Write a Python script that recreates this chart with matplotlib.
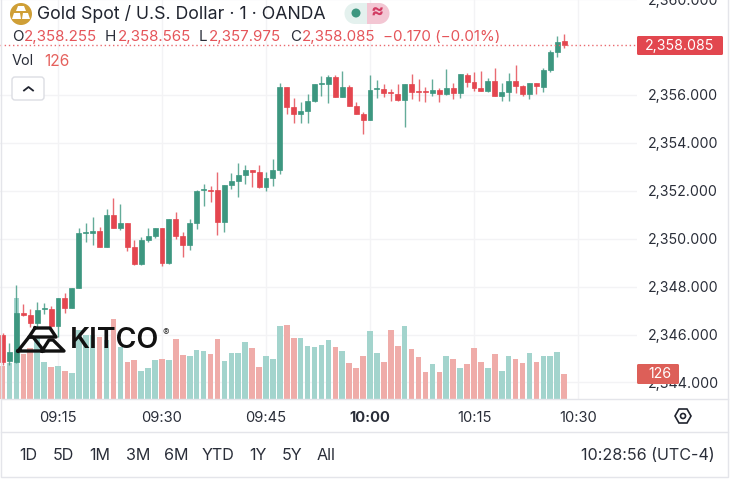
import matplotlib
matplotlib.use('Agg')
import matplotlib.pyplot as plt
from matplotlib.patches import Circle, FancyBboxPatch, Polygon, Rectangle

plt.rcParams['font.family'] = ['Inter', 'DejaVu Sans']

# one minute candles, 09:07 to 10:28
opens = [2345.98, 2344.89, 2344.86, 2346.88, 2346.80, 2346.47, 2347.05, 2347.06, 2346.37, 2347.52,
         2347.12, 2347.95, 2350.25, 2350.25, 2350.32, 2349.64, 2351.00, 2350.46, 2350.64, 2349.64,
         2348.94, 2349.96, 2350.11, 2350.43, 2348.97, 2350.83, 2350.11, 2349.73, 2350.67, 2352.02,
         2352.02, 2352.02, 2350.71, 2352.24, 2352.41, 2352.66, 2352.85, 2352.78, 2352.17, 2352.55,
         2352.85, 2356.32, 2355.48, 2355.19, 2355.33, 2355.76, 2356.46, 2356.46, 2356.75, 2355.90,
         2356.35, 2355.54, 2355.19, 2354.96, 2356.24, 2356.24, 2356.12, 2356.03, 2355.78, 2356.44,
         2356.17, 2356.15, 2356.07, 2356.21, 2356.04, 2356.28, 2356.07, 2356.83, 2356.56, 2356.31,
         2356.18, 2356.58, 2355.94, 2356.12, 2356.60, 2356.39, 2356.04, 2356.51, 2356.35, 2357.04,
         2357.81, 2358.255]
highs = [2346.05, 2345.63, 2348.07, 2347.27, 2347.05, 2347.34, 2347.30, 2347.19, 2347.52, 2347.72,
         2347.95, 2350.43, 2350.64, 2350.92, 2350.50, 2351.22, 2351.68, 2351.45, 2350.64, 2349.94,
         2350.08, 2350.46, 2350.46, 2350.43, 2350.83, 2351.10, 2350.28, 2350.81, 2352.03, 2352.28,
         2352.21, 2352.80, 2352.24, 2352.73, 2353.15, 2353.06, 2352.85, 2353.07, 2352.77, 2353.34,
         2356.49, 2356.32, 2355.86, 2355.72, 2356.03, 2356.44, 2356.79, 2356.83, 2356.83, 2357.00,
         2356.40, 2355.71, 2355.28, 2356.83, 2356.63, 2356.44, 2356.24, 2356.44, 2356.44, 2356.88,
         2356.68, 2356.35, 2356.68, 2356.28, 2357.07, 2356.49, 2356.86, 2356.90, 2356.96, 2357.01,
         2356.69, 2357.14, 2356.49, 2356.90, 2357.25, 2356.42, 2356.51, 2356.51, 2357.11, 2357.88,
         2358.46, 2358.565]
lows = [2344.73, 2344.73, 2344.82, 2346.77, 2346.30, 2346.33, 2346.86, 2346.33, 2345.91, 2346.88,
        2347.09, 2347.95, 2349.87, 2349.73, 2349.64, 2349.64, 2350.46, 2350.36, 2349.50, 2348.91,
        2348.91, 2349.87, 2350.01, 2348.86, 2348.94, 2349.97, 2349.25, 2349.53, 2350.40, 2351.38,
        2351.55, 2350.15, 2350.29, 2352.06, 2351.75, 2352.28, 2352.17, 2352.10, 2352.00, 2352.20,
        2352.69, 2355.21, 2354.82, 2354.82, 2354.84, 2355.71, 2355.97, 2355.68, 2355.90, 2355.90,
        2355.54, 2355.19, 2354.36, 2354.96, 2355.89, 2355.93, 2355.75, 2355.75, 2354.68, 2355.85,
        2355.75, 2355.72, 2355.97, 2355.72, 2356.00, 2355.82, 2355.87, 2356.35, 2356.17, 2356.18,
        2356.14, 2355.94, 2355.76, 2355.76, 2356.10, 2355.97, 2355.82, 2356.04, 2356.14, 2356.97,
        2357.60, 2357.975]
closes = [2344.87, 2345.26, 2346.88, 2346.80, 2346.47, 2347.02, 2347.09, 2346.37, 2347.52, 2347.12,
          2347.95, 2350.22, 2350.28, 2350.32, 2349.64, 2351.00, 2350.46, 2350.64, 2349.64, 2348.94,
          2349.96, 2350.11, 2350.43, 2348.97, 2350.83, 2350.11, 2349.73, 2350.67, 2352.00, 2352.06,
          2351.98, 2350.71, 2352.24, 2352.41, 2352.66, 2352.85, 2352.78, 2352.17, 2352.55, 2352.85,
          2356.32, 2355.48, 2355.19, 2355.33, 2355.76, 2356.44, 2356.49, 2356.75, 2355.90, 2356.35,
          2355.54, 2355.19, 2354.96, 2356.21, 2356.28, 2356.07, 2356.08, 2355.78, 2356.44, 2356.14,
          2356.12, 2356.12, 2356.22, 2356.04, 2356.29, 2356.07, 2356.86, 2356.56, 2356.28, 2356.18,
          2356.58, 2355.94, 2356.12, 2356.58, 2356.39, 2356.04, 2356.51, 2356.36, 2357.04, 2357.81,
          2358.20, 2358.085]
volumes = [168, 180, 512, 228, 257, 311, 189, 163, 167, 141,
           133, 350, 325, 325, 316, 300, 406, 265, 189, 197,
           141, 158, 197, 202, 197, 304, 223, 219, 248, 241,
           226, 304, 190, 231, 231, 287, 257, 160, 219, 204,
           371, 374, 309, 308, 267, 264, 274, 299, 264, 243,
           182, 156, 219, 343, 233, 189, 350, 269, 371, 252,
           214, 134, 177, 138, 216, 204, 158, 177, 260, 189,
           158, 228, 139, 219, 202, 184, 233, 189, 219, 219,
           240, 126]

price_ticks = [2344, 2346, 2348, 2350, 2352, 2354, 2356, 2358, 2360]
time_ticks = [8, 23, 38, 53, 68, 83]
time_labels = ['09:15', '09:30', '09:45', '10:00', '10:15', '10:30']
range_labels = ['1D', '5D', '1M', '3M', '6M', 'YTD', '1Y', '5Y', 'All']
range_x = [28, 63, 100, 138, 176, 218, 258, 292, 326]

GREEN = '#3d9780'
RED = '#e4464f'
INK = '#2a2e39'
W, H = 730, 479

fig = plt.figure(figsize=(W / 100, H / 100), dpi=100, facecolor='white')
rect = [0, 1 - 399 / H, 637 / W, 401 / H]
xlim = (-0.366, 91.51)

# grid and tick labels
ax = fig.add_axes(rect, zorder=0)
ax.set_xlim(xlim)
ax.set_ylim(2343.307, 2360.05)
ax.set_yticks([p for p in price_ticks if p != 2358])
ax.set_yticklabels([f'{p:,.3f}' for p in price_ticks if p != 2358], fontsize=10.2, color=INK)
ax.yaxis.tick_right()
ax.set_xticks(time_ticks)
ax.set_xticklabels(time_labels, fontsize=10.6, color=INK)
ax.get_xticklabels()[3].set_fontweight('bold')
ax.tick_params(axis='both', length=0)
ax.tick_params(axis='y', pad=8)
ax.tick_params(axis='x', pad=8.5)
ax.grid(color='#f3f3f5', linewidth=1)
ax.set_axisbelow(True)
for s in ax.spines.values():
    s.set_visible(False)

# volume bars
ax_vol = fig.add_axes(rect, zorder=1)
ax_vol.patch.set_alpha(0)
ax_vol.axis('off')
ax_vol.set_xlim(xlim)
ax_vol.set_ylim(-1.5, 2043)
xs = list(range(len(opens)))
vol_colors = ['#a3d4cd' if c >= o else '#efaca9' for o, c in zip(opens, closes)]
ax_vol.bar(xs, volumes, width=0.8, color=vol_colors, linewidth=0)

# candles
ax_c = fig.add_axes(rect, zorder=2)
ax_c.patch.set_alpha(0)
ax_c.axis('off')
ax_c.set_xlim(xlim)
ax_c.set_ylim(ax.get_ylim())
colors = [GREEN if c >= o else RED for o, c in zip(opens, closes)]
ax_c.vlines(xs, lows, highs, colors=colors, linewidth=1, alpha=0.8)
ax_c.bar(xs, [abs(c - o) for o, c in zip(opens, closes)],
         bottom=[min(o, c) for o, c in zip(opens, closes)],
         width=0.72, color=colors, edgecolor=colors, linewidth=0.5)
ax_c.axhline(closes[-1], color='#ea6a6f', linewidth=1, linestyle=(0, (1, 2)))

# everything around the chart, in pixels
ov = fig.add_axes([0, 0, 1, 1], zorder=5)
ov.patch.set_alpha(0)
ov.axis('off')
ov.set_xlim(0, W)
ov.set_ylim(H, 0)

for y in [399, 432]:
    ov.plot([1, 728], [y, y], color='#e4e5ea', linewidth=1)
ov.plot([1, 1, 728, 728], [0, 476.5, 476.5, 0], color='#e4e5ea', linewidth=1)

# header
ov.add_patch(Circle((21, 14), 11, color='#cf9f36', linewidth=0))
ov.add_patch(Polygon([(18, 6), (24, 6), (26, 11), (16, 11)], color='white', linewidth=0))
ov.add_patch(Polygon([(12, 19), (14, 13), (20, 13), (21, 19)], color='white', linewidth=0))
ov.add_patch(Polygon([(22, 19), (23, 13), (28, 13), (30, 19)], color='white', linewidth=0))
ov.text(37, 14, 'Gold Spot / U.S. Dollar · 1 · OANDA', fontsize=12.75, color='#20242f', va='center')

ov.add_patch(Rectangle((355, 3), 12, 21, color='#e4f1ee', linewidth=0))
ov.add_patch(Circle((355, 13.5), 10.5, color='#e4f1ee', linewidth=0))
ov.add_patch(Rectangle((367, 3), 12, 21, color='#f3c6d3', linewidth=0))
ov.add_patch(Circle((379, 13.5), 10.5, color='#f3c6d3', linewidth=0))
ov.add_patch(Circle((356, 13), 4.5, color=GREEN, linewidth=0))
ov.text(377.5, 13, '≈', fontsize=14, color='#d23c63', ha='center', va='center', fontweight='bold')

for x, label in [(12, 'O'), (105, 'H'), (199, 'L'), (290, 'C')]:
    ov.text(x, 37, label, fontsize=10.9, color=INK, va='center')
for x, val in [(24, opens[-1]), (118, highs[-1]), (209, lows[-1]), (302, closes[-1])]:
    ov.text(x, 37, f'{val:,.3f}', fontsize=10.9, color='#e5555a', va='center')
ov.text(383, 37, f'−{opens[-1] - closes[-1]:.3f} (−0.01%)', fontsize=10.9, color='#e5555a', va='center')
ov.text(12, 61, 'Vol', fontsize=10.4, color=INK, va='center')
ov.text(44, 61, str(volumes[-1]), fontsize=11.2, color='#e5605c', va='center')

ov.add_patch(FancyBboxPatch((12, 77), 32, 23, boxstyle='round,pad=0,rounding_size=3',
                            facecolor='white', edgecolor='#dcdde3', linewidth=1))
ov.plot([24, 28.5, 33], [90.5, 87, 90.5], color='#20242f', linewidth=1.3)

# kitco logo
ov.plot([35, 50, 56, 29, 35], [328, 328, 337, 337, 328], color='#111111', linewidth=2.4)
ov.plot([18, 29, 33, 44, 18], [351, 337, 337, 351, 351], color='#111111', linewidth=2.4)
ov.plot([42, 49, 53, 64, 42], [351, 340, 340, 351, 351], color='#111111', linewidth=2.4)
ov.text(70, 341, 'KITCO', fontsize=20.5, color='#111111', fontweight='semibold', va='center')
ov.text(166, 333, '®', fontsize=7, color='#333333', ha='center', va='center')

# last price and volume tags
ov.add_patch(FancyBboxPatch((637, 36), 86, 19, boxstyle='round,pad=0,rounding_size=1.5', color='#e2474f', linewidth=0))
ov.text(680, 45.5, f'{closes[-1]:,.3f}', fontsize=10.2, color='white', ha='center', va='center')
ov.add_patch(FancyBboxPatch((637, 364), 42, 20, boxstyle='round,pad=0,rounding_size=1.5', color='#dd5f58', linewidth=0))
ov.text(660, 374, str(volumes[-1]), fontsize=10.2, color='white', ha='center', va='center')

# settings icon
ov.add_patch(Polygon([(675, 416), (679, 409), (687, 409), (691, 416), (687, 423), (679, 423)],
                     fill=False, edgecolor='#20242f', linewidth=1.2))
ov.add_patch(Circle((683, 416), 2.5, fill=False, edgecolor='#20242f', linewidth=1.2))

# range row
for x, label in zip(range_x, range_labels):
    ov.text(x, 455.5, label, fontsize=11.6, color=INK, ha='center', va='center')
ov.text(715, 455.5, '10:28:56 (UTC-4)', fontsize=11.6, color=INK, ha='right', va='center')

fig.savefig('out.png', dpi=100)
